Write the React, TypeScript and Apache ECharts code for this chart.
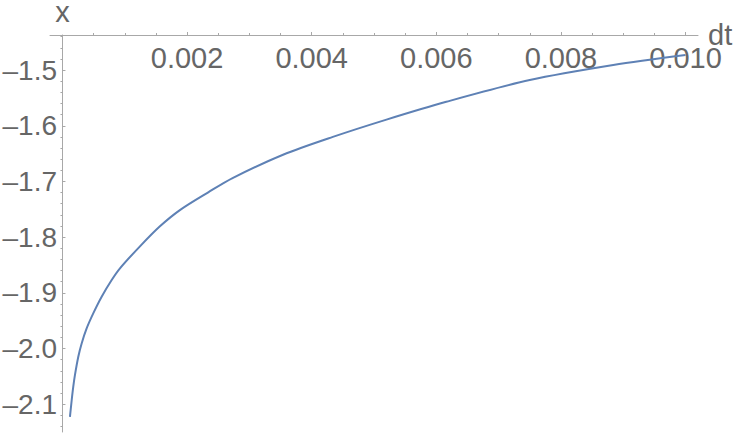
import React, { useEffect, useRef } from "react";
import * as echarts from "echarts";

// Data
const dtValues = [
  0.00012, 0.000148, 0.000173, 0.0002, 0.000254, 0.000308, 0.000388,
  0.000494, 0.000629, 0.00079, 0.000923, 0.00124, 0.00156, 0.00189,
  0.00234, 0.00273, 0.00354, 0.00434, 0.0052, 0.00616, 0.0075, 0.00884,
  0.01,
];
const xValues = [
  -2.123, -2.093, -2.069, -2.048, -2.015, -1.991, -1.964, -1.937, -1.907,
  -1.877, -1.856, -1.817, -1.781, -1.751, -1.7195, -1.694, -1.652, -1.62,
  -1.589, -1.557, -1.518, -1.491, -1.473,
];

const xMajorTicks = [0.002, 0.004, 0.006, 0.008, 0.01];
const xMinorTicks = [
  0.0005, 0.001, 0.0015, 0.0025, 0.003, 0.0035, 0.0045, 0.005, 0.0055,
  0.0065, 0.007, 0.0075, 0.0085, 0.009, 0.0095,
];
const yMajorTicks = [-1.5, -1.6, -1.7, -1.8, -1.9, -2.0, -2.1];
const yMinorTicks = [
  -1.44, -1.46, -1.48, -1.52, -1.54, -1.56, -1.58, -1.62, -1.64, -1.66,
  -1.68, -1.72, -1.74, -1.76, -1.78, -1.82, -1.84, -1.86, -1.88, -1.92,
  -1.94, -1.96, -1.98, -2.02, -2.04, -2.06, -2.08, -2.12, -2.14,
];

const X_MIN = -0.0002;
const X_MAX = 0.0102;
const Y_MIN = -2.15;
const Y_MAX = -1.437;

const LINE_COLOR = "#a8a8a8";
const TEXT_COLOR = "#666666";
const FONT = "Liberation Sans, Arial, sans-serif";
const FS = 29;
const FS_Y = 28;

export default function App() {
  const ref = useRef<HTMLDivElement>(null);

  useEffect(() => {
    document.body.style.margin = "0";
    if (!ref.current) return;
    const chart = echarts.init(ref.current, undefined, { renderer: "svg" });
    const data = dtValues.map((d, i) => [d, xValues[i]]);
    chart.setOption({
      animation: false,
      grid: {
        left: 50,
        right: 50,
        top: 35,
        bottom: 5,
        outerBoundsMode: "none",
        containLabel: false,
      },
      xAxis: [
        {
          type: "value",
          position: "top",
          min: X_MIN,
          max: X_MAX,
          name: "dt",
          nameLocation: "end",
          nameGap: 10,
          nameMoveOverlap: false,
          nameTextStyle: {
            color: TEXT_COLOR,
            fontSize: FS,
            fontFamily: FONT,
            padding: [5, 0, 0, 0],
          },
          axisLine: {
            show: true,
            onZero: false,
            lineStyle: { color: LINE_COLOR, width: 1 },
          },
          axisTick: {
            show: true,
            inside: false,
            length: 3,
            customValues: xMajorTicks,
            lineStyle: { color: LINE_COLOR },
          },
          axisLabel: {
            show: true,
            inside: true,
            margin: 8,
            customValues: xMajorTicks,
            color: TEXT_COLOR,
            fontSize: FS,
            fontFamily: FONT,
            formatter: (v: number) => v.toFixed(3),
          },
          splitLine: { show: false },
        },
        {
          type: "value",
          position: "top",
          min: X_MIN,
          max: X_MAX,
          axisLine: { show: false, onZero: false },
          axisTick: {
            show: true,
            inside: false,
            length: 2,
            customValues: xMinorTicks,
            lineStyle: { color: LINE_COLOR },
          },
          axisLabel: { show: false },
          splitLine: { show: false },
        },
      ],
      yAxis: [
        {
          type: "value",
          min: Y_MIN,
          max: Y_MAX,
          name: "x",
          nameLocation: "end",
          nameGap: 12,
          nameMoveOverlap: false,
          nameTextStyle: {
            color: TEXT_COLOR,
            fontSize: FS,
            fontFamily: FONT,
            lineHeight: 22,
          },
          axisLine: {
            show: true,
            onZero: true,
            onZeroAxisIndex: 0,
            lineStyle: { color: LINE_COLOR, width: 1 },
          },
          axisTick: {
            show: true,
            inside: true,
            length: 3,
            customValues: yMajorTicks,
            lineStyle: { color: LINE_COLOR },
          },
          axisLabel: {
            show: true,
            margin: -7,
            customValues: yMajorTicks,
            color: TEXT_COLOR,
            fontSize: FS_Y,
            fontFamily: FONT,
            formatter: (v: number) =>
              (v < 0 ? "\u2013" : "") + Math.abs(v).toFixed(1),
          },
          splitLine: { show: false },
        },
        {
          type: "value",
          min: Y_MIN,
          max: Y_MAX,
          axisLine: {
            show: false,
            onZero: true,
            onZeroAxisIndex: 0,
          },
          axisTick: {
            show: true,
            inside: true,
            length: 2,
            customValues: yMinorTicks,
            lineStyle: { color: LINE_COLOR },
          },
          axisLabel: { show: false },
          splitLine: { show: false },
        },
      ],
      series: [
        {
          type: "line",
          xAxisIndex: 0,
          yAxisIndex: 0,
          data,
          showSymbol: false,
          smooth: 0.3,
          lineStyle: { color: "#5E81B5", width: 2 },
          itemStyle: { color: "#5E81B5" },
          z: 5,
        },
      ],
    });
    return () => chart.dispose();
  }, []);

  return <div ref={ref} style={{ width: 748, height: 437 }} />;
}
